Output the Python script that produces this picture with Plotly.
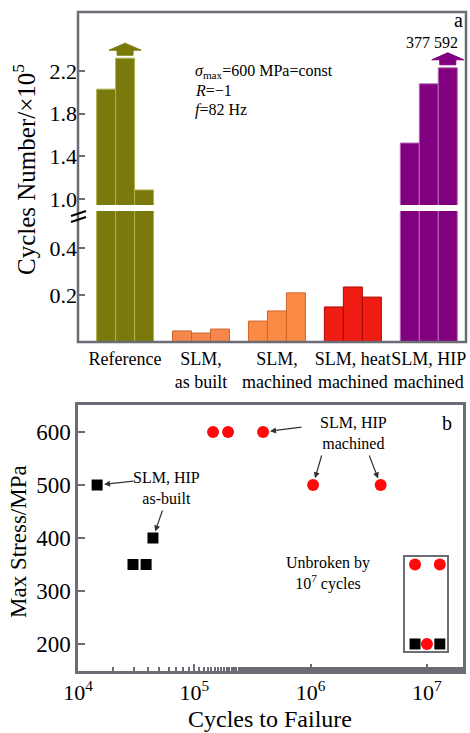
import math
import plotly.graph_objects as go

# ---------------- data: panel a ----------------
categories = ["Reference", "SLM,<br>as built", "SLM,<br>machined",
              "SLM, heat<br>machined", "SLM, HIP<br>machined"]
specimen1 = [2.03, 0.047, 0.089, 0.149, 1.525]   # x10^5 cycles
specimen2 = [2.32, 0.038, 0.132, 0.234, 2.08]
specimen3 = [1.085, 0.055, 0.209, 0.191, 2.23]
upper_ticks = [1.0, 1.4, 1.8, 2.2]
lower_ticks = [0.2, 0.4]
runout_label = "377 592"

# ---------------- data: panel b ----------------
asbuilt_cycles = [1.46e4, 2.97e4, 3.85e4, 4.41e4]
asbuilt_stress = [500, 350, 350, 400]
machined_cycles = [1.45e5, 1.95e5, 3.9e5, 1.05e6, 4.0e6]
machined_stress = [600, 600, 600, 500, 500]
runout_sq_cycles = [7.9e6, 1.29e7]
runout_sq_stress = [200, 200]
runout_ci_cycles = [7.9e6, 1.29e7, 1.0e7]
runout_ci_stress = [350, 350, 200]
x_tickvals = [1e4, 1e5, 1e6, 1e7]
x_ticktext = ["10<sup>4</sup>", "10<sup>5</sup>", "10<sup>6</sup>", "10<sup>7</sup>"]
y_ticks_b = [200, 300, 400, 500, 600]

# ---------------- styles ----------------
fill_colors = ["#7a7a0c", "#f5874a", "#fb8a45", "#ee1c12", "#80007f"]
line_colors = ["#b0b050", "#c8642d", "#d0642a", "#a80a05", "#b868b8"]
FRAME = "#6c6c74"
FONT = "Liberation Serif"

W, H = 470, 733
ML, MR, MT, MB = 78, 4, 12, 62
PW, PH = W - ML - MR, H - MT - MB


def pxx(x):
    return (x - ML) / PW


def pxy(y):
    return (H - MB - y) / PH


fig = go.Figure()

for yax in ["y", "y3"]:
    for vals in [specimen1, specimen2, specimen3]:
        fig.add_trace(go.Bar(
            x=categories, y=vals, xaxis="x", yaxis=yax,
            marker=dict(color=fill_colors, line=dict(color=line_colors, width=1)),
            showlegend=False, hoverinfo="skip"))

fig.add_trace(go.Scatter(
    x=asbuilt_cycles + runout_sq_cycles, y=asbuilt_stress + runout_sq_stress,
    xaxis="x2", yaxis="y2", mode="markers",
    marker=dict(symbol="square", size=11, color="black"), showlegend=False))
fig.add_trace(go.Scatter(
    x=machined_cycles + runout_ci_cycles, y=machined_stress + runout_ci_stress,
    xaxis="x2", yaxis="y2", mode="markers",
    marker=dict(symbol="circle", size=12, color="#ff0a0a"), showlegend=False))

tickfont = dict(family=FONT, size=22, color="black")
fig.update_layout(
    width=W, height=H, margin=dict(l=ML, r=MR, t=MT, b=MB),
    paper_bgcolor="white", plot_bgcolor="white",
    barmode="group", bargap=0.25, bargroupgap=0.0,
    font=dict(family=FONT, color="black"),
    xaxis=dict(domain=[0, 1], anchor="y", type="category",
               categoryorder="array", categoryarray=categories,
               range=[-0.62, 4.49], showline=False, ticks="", tickangle=0,
               ticklabelstandoff=4,
               showgrid=False, zeroline=False,
               tickfont=dict(family=FONT, size=18, color="black")),
    yaxis=dict(domain=[pxy(342), pxy(211)], anchor="x", range=[0, 0.557],
               tickvals=lower_ticks, tickformat=".1f", ticks="inside",
               ticklen=7, tickwidth=2, tickcolor=FRAME, showgrid=False,
               zeroline=False, showline=False, tickfont=tickfont),
    yaxis3=dict(domain=[pxy(205), 1], anchor="x", range=[0.944, 2.753],
                tickvals=upper_ticks, tickformat=".1f", ticks="inside",
                ticklen=7, tickwidth=2, tickcolor=FRAME, showgrid=False,
                zeroline=False, showline=False, tickfont=tickfont),
    xaxis2=dict(domain=[0, pxx(463)], anchor="y2", type="log",
                range=[4, 7.31], tickvals=x_tickvals, ticktext=x_ticktext,
                ticks="inside", ticklen=7, tickwidth=2, tickcolor=FRAME,
                minor=dict(ticks="inside", ticklen=4, tickwidth=1.5,
                           tickcolor=FRAME, showgrid=False),
                showline=True, linecolor=FRAME, linewidth=2.5, mirror=True,
                showgrid=False, zeroline=False, tickfont=tickfont),
    yaxis2=dict(domain=[0, pxy(405)], anchor="x2", range=[149, 651],
                tickvals=y_ticks_b, ticks="inside", ticklen=7, tickwidth=2,
                tickcolor=FRAME, showline=True, linecolor=FRAME,
                linewidth=2.5, mirror=True, showgrid=False, zeroline=False,
                tickfont=dict(family=FONT, size=23, color="black")),
)

shapes = []
# frame of panel a
shapes.append(dict(type="rect", xref="paper", yref="paper", x0=0, x1=1,
                   y0=pxy(342), y1=1, line=dict(color=FRAME, width=2.5),
                   layer="above"))
# axis break marks
for dy in (0, 6):
    shapes.append(dict(type="line", xref="paper", yref="paper",
                       x0=pxx(71), y0=pxy(216 + dy), x1=pxx(86), y1=pxy(211 + dy),
                       line=dict(color="black", width=2)))
# block arrows (run-outs) above the tallest bars
arrow_path = "M -8,3 L 8,3 L 8,8 L 16,8 L 0,15 L -16,8 L -8,8 Z"
shapes.append(dict(type="path", xref="x", yref="y3", xsizemode="pixel",
                   ysizemode="pixel", xanchor=0, yanchor=specimen2[0],
                   path=arrow_path, fillcolor=fill_colors[0],
                   line=dict(color=fill_colors[0], width=1)))
shapes.append(dict(type="path", xref="x", yref="y3", xsizemode="pixel",
                   ysizemode="pixel", xanchor=4.25, yanchor=specimen3[4],
                   path=arrow_path, fillcolor=fill_colors[4],
                   line=dict(color=fill_colors[4], width=1)))
# run-out box in panel b
shapes.append(dict(type="rect", xref="x2", yref="y2",
                   x0=10 ** 6.803, x1=10 ** 7.181, y0=185, y1=366,
                   line=dict(color=FRAME, width=2), layer="below"))
fig.update_layout(shapes=shapes)

ann = []
afont = dict(family=FONT, size=16, color="black")
ann.append(dict(xref="paper", yref="paper", x=pxx(193), y=pxy(71),
                xanchor="left", yanchor="middle", showarrow=False,
                text="<i>σ</i><sub>max</sub>=600 MPa=const", font=afont))
ann.append(dict(xref="paper", yref="paper", x=pxx(193), y=pxy(91),
                xanchor="left", yanchor="middle", showarrow=False,
                text="<i>R</i>=−1", font=afont))
ann.append(dict(xref="paper", yref="paper", x=pxx(193), y=pxy(110),
                xanchor="left", yanchor="middle", showarrow=False,
                text="<i>f</i>=82 Hz", font=afont))
ann.append(dict(xref="paper", yref="paper", x=pxx(432), y=pxy(43),
                xanchor="center", yanchor="middle", showarrow=False,
                text=runout_label, font=afont))
ann.append(dict(xref="paper", yref="paper", x=pxx(458), y=pxy(20),
                xanchor="center", yanchor="middle", showarrow=False,
                text="a", font=dict(family=FONT, size=20, color="black")))
ann.append(dict(xref="paper", yref="paper", x=pxx(447), y=pxy(423),
                xanchor="center", yanchor="middle", showarrow=False,
                text="b", font=dict(family=FONT, size=20, color="black")))
# axis titles
ann.append(dict(xref="paper", yref="paper", x=pxx(24), y=pxy(170),
                xanchor="center", yanchor="middle", showarrow=False,
                textangle=-90, text="Cycles Number/×10<sup>5</sup>",
                font=dict(family=FONT, size=25, color="black")))
ann.append(dict(xref="paper", yref="paper", x=pxx(18), y=pxy(542),
                xanchor="center", yanchor="middle", showarrow=False,
                textangle=-90, text="Max Stress/MPa",
                font=dict(family=FONT, size=23, color="black")))
ann.append(dict(xref="paper", yref="paper", x=pxx(270), y=pxy(719),
                xanchor="center", yanchor="middle", showarrow=False,
                text="Cycles to Failure",
                font=dict(family=FONT, size=24, color="black")))
# panel b labels
ann.append(dict(xref="x2", yref="y2", x=6.365, y=599, showarrow=False,
                text="SLM, HIP<br>machined", font=afont))
ann.append(dict(xref="x2", yref="y2", x=4.765, y=495, showarrow=False,
                text="SLM, HIP<br>as-built", font=afont))
ann.append(dict(xref="x2", yref="y2", x=6.15, y=333, showarrow=False,
                text="Unbroken by<br>10<sup>7</sup> cycles", font=afont))
# pointer arrows
arrow_targets = [
    (math.log10(machined_cycles[2]), machined_stress[2], 40, -5),
    (math.log10(machined_cycles[3]), machined_stress[3], 9, -31),
    (math.log10(machined_cycles[4]), machined_stress[4], -12, -31),
    (math.log10(asbuilt_cycles[0]), asbuilt_stress[0], 38, -4),
    (math.log10(asbuilt_cycles[3]), asbuilt_stress[3], 10, -29),
]
for xa, ya, axp, ayp in arrow_targets:
    ann.append(dict(xref="x2", yref="y2", x=xa, y=ya, ax=axp, ay=ayp,
                    text="", showarrow=True, arrowhead=2, arrowsize=1,
                    arrowwidth=1.2, arrowcolor="#333333", standoff=7))
fig.update_layout(annotations=ann)

fig.write_html("out.html")
